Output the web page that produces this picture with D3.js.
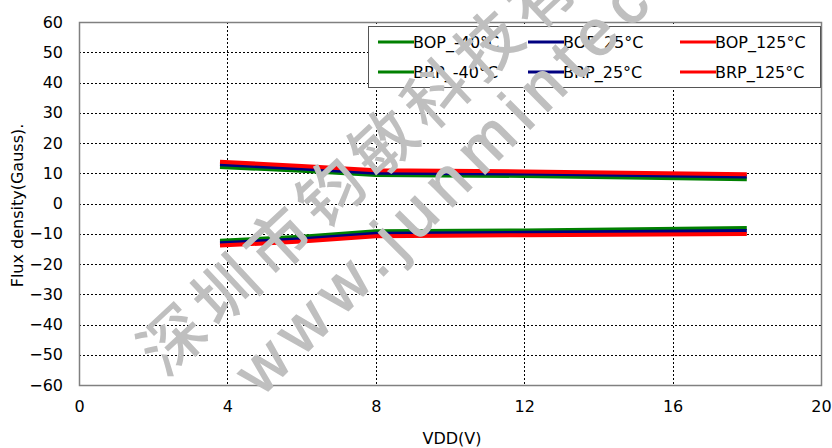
<!DOCTYPE html>
<html>
<head>
<meta charset="utf-8">
<script src="https://cdn.jsdelivr.net/npm/d3@7"></script>
<style>
  body { margin: 0; background: #fff; }
  svg { display: block; }
</style>
</head>
<body>
<svg id="chart" width="832" height="448"></svg>
<script>
// Supply voltage sweep (V)
const vdd = [3.8, 6, 8, 12, 18];

// Operate / release points (Gauss) at three temperatures
const bopM40 = [12.1, 10.8, 9.4, 9.1, 8.0];
const bop25  = [13.0, 11.6, 10.2, 9.9, 8.9];
const bop125 = [13.8, 12.4, 11.0, 10.6, 9.7];
const brpM40 = [-12.3, -11.0, -9.2, -8.9, -8.1];
const brp25  = [-13.1, -11.8, -10.0, -9.7, -9.1];
const brp125 = [-13.9, -12.6, -10.8, -10.5, -10.1];

const seriesNames  = ["BOP_-40°C", "BOP_25°C", "BOP_125°C", "BRP_-40°C", "BRP_25°C", "BRP_125°C"];
const seriesValues = [bopM40, bop25, bop125, brpM40, brp25, brp125];
const seriesColors = ["#008000", "#000080", "#ff0000", "#008000", "#000080", "#ff0000"];

const xTicks = [0, 4, 8, 12, 16, 20];
const yTicks = [-60, -50, -40, -30, -20, -10, 0, 10, 20, 30, 40, 50, 60];

const xTitle = "VDD(V)";
const yTitle = "Flux density(Gauss).";
const markCn = "深圳市钧敏科技有限公司";
const markEn = "www.junmintech.com";

const svg = d3.select("#chart");
const font = "'DejaVu Sans', Verdana, sans-serif";

const plotL = 79, plotR = 821, plotT = 22, plotB = 385;
const x = d3.scaleLinear().domain([0, 20]).range([plotL, plotR]);
const y = d3.scaleLinear().domain([-60, 60]).range([plotB, plotT]);

// dotted grid
const grid = svg.append("g").attr("stroke", "#000").attr("stroke-width", 1)
  .attr("stroke-dasharray", "2,2").attr("shape-rendering", "crispEdges");
grid.selectAll("line.v").data(xTicks.filter(d => d > 0 && d < 20)).join("line")
  .attr("class", "v")
  .attr("x1", d => Math.round(x(d)) + 0.5).attr("x2", d => Math.round(x(d)) + 0.5)
  .attr("y1", plotT).attr("y2", plotB);
grid.selectAll("line.h").data(yTicks.filter(d => d > -60 && d < 60)).join("line")
  .attr("class", "h")
  .attr("x1", plotL).attr("x2", plotR)
  .attr("y1", d => Math.round(y(d)) + 0.5).attr("y2", d => Math.round(y(d)) + 0.5);

// plot frame
svg.append("rect")
  .attr("x", plotL + 0.5).attr("y", plotT + 0.5)
  .attr("width", plotR - plotL).attr("height", plotB - plotT)
  .attr("fill", "none").attr("stroke", "#808080").attr("stroke-width", 1.5);

// axes (labels only, no tick marks)
const xAxis = svg.append("g").attr("transform", `translate(0,${plotB})`)
  .call(d3.axisBottom(x).tickValues(xTicks).tickSize(0).tickPadding(16).tickFormat(d3.format("d")));
const yAxis = svg.append("g").attr("transform", `translate(${plotL},0)`)
  .call(d3.axisLeft(y).tickValues(yTicks).tickSize(0).tickPadding(16).tickFormat(d3.format("d")));
[xAxis, yAxis].forEach(a => {
  a.select(".domain").remove();
  a.selectAll("text").attr("font-family", font).attr("font-size", 16).attr("fill", "#000");
});

svg.append("text").text(xTitle)
  .attr("x", (plotL + plotR) / 2 + 2).attr("y", 444)
  .attr("text-anchor", "middle").attr("font-family", font).attr("font-size", 16);
svg.append("text").text(yTitle)
  .attr("transform", `translate(23,${(plotT + plotB) / 2 + 2}) rotate(-90)`)
  .attr("text-anchor", "middle").attr("font-family", font).attr("font-size", 16);

// series lines
const line = d3.line().x((d, i) => x(vdd[i])).y(d => y(d));
svg.append("g").selectAll("path").data(seriesValues).join("path")
  .attr("d", d => line(d))
  .attr("fill", "none")
  .attr("stroke", (d, i) => seriesColors[i])
  .attr("stroke-width", 4)
  .attr("stroke-linejoin", "round");

// legend
const lg = svg.append("g");
lg.append("rect").attr("x", 368.5).attr("y", 26.5).attr("width", 452).attr("height", 61)
  .attr("fill", "#fff").attr("stroke", "#555").attr("stroke-width", 1);
const colX = [378, 528, 680];
const rowY = [42, 72];
seriesNames.forEach((name, i) => {
  const cx = colX[i % 3], cy = rowY[Math.floor(i / 3)];
  lg.append("line").attr("x1", cx).attr("x2", cx + 36).attr("y1", cy).attr("y2", cy)
    .attr("stroke", seriesColors[i]).attr("stroke-width", 3);
  lg.append("text").text(name).attr("x", cx + 35).attr("y", cy + 6)
    .attr("font-family", font).attr("font-size", 16).attr("fill", "#000");
});

// company mark across the plot
const mark = svg.append("g").attr("fill", "#bfbfbf");
mark.append("text").text(markCn)
  .attr("transform", "translate(146,358) rotate(-43)")
  .attr("dominant-baseline", "central")
  .attr("font-family", "'Noto Sans CJK SC', sans-serif").attr("font-size", 64)
  .attr("font-weight", 500)
  .attr("letter-spacing", 8);
mark.append("text").text(markEn)
  .attr("transform", "translate(246,382) rotate(-45)")
  .attr("dominant-baseline", "central")
  .attr("font-family", "'Liberation Sans', Arial, sans-serif").attr("font-size", 64)
  .attr("stroke", "#bfbfbf").attr("stroke-width", 1.5)
  .attr("letter-spacing", 10.5);
</script>
</body>
</html>
